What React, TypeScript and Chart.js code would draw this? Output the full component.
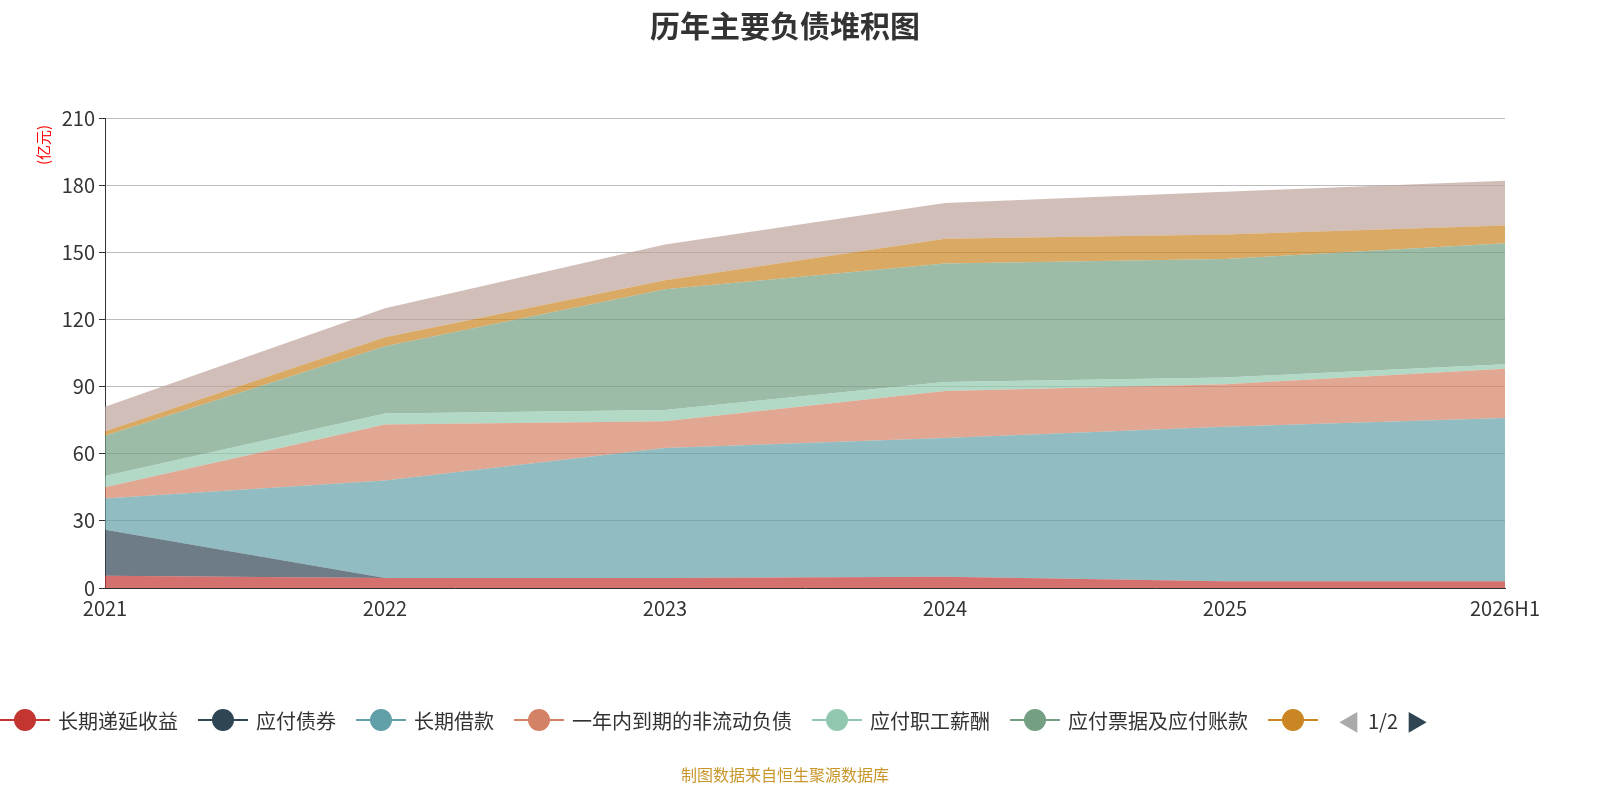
import React, { useEffect, useRef } from "react";
import { Chart, registerables } from "chart.js";
Chart.register(...registerables);

const categories = ["2021", "2022", "2023", "2024", "2025", "2026H1"];
const seriesNames = ["长期递延收益", "应付债券", "长期借款", "一年内到期的非流动负债", "应付职工薪酬", "应付票据及应付账款", "合同负债", "其他应付款"];
const colors = ["#c23531", "#2f4554", "#61a0a8", "#d48265", "#91c7ae", "#749f83", "#ca8622", "#bda29a"];
const s1 = [5.5, 4.5, 4.5, 5, 3, 3];
const s2 = [20.5, 0, 0, 0, 0, 0];
const s3 = [14, 43.5, 58, 62, 69, 73];
const s4 = [5, 25, 12, 21, 19, 22];
const s5 = [5, 5, 5, 4, 3, 2];
const s6 = [18, 30, 54, 53, 53, 54];
const s7 = [2, 4, 4, 11, 11, 8];
const s8 = [11, 13, 16, 16, 19, 20];
const allSeries = [s1, s2, s3, s4, s5, s6, s7, s8];
const yTicks = [0, 30, 60, 90, 120, 150, 180, 210];

function hexA(h: string, a: number) {
  const n = parseInt(h.slice(1), 16);
  return `rgba(${n >> 16},${(n >> 8) & 255},${n & 255},${a})`;
}

export default function App() {
  const ref = useRef<HTMLCanvasElement>(null);
  useEffect(() => {
    document.body.style.margin = "0";
    const chart = new Chart(ref.current!, {
      type: "line",
      data: {
        labels: categories,
        datasets: allSeries.map((d, i) => ({
          label: seriesNames[i],
          data: d,
          borderWidth: 0,
          borderColor: colors[i],
          backgroundColor: hexA(colors[i], 0.7),
          fill: i === 0 ? "origin" : "-1",
          pointRadius: 0,
          tension: 0,
        })),
      },
      options: {
        animation: false,
        responsive: false,
        layout: { padding: { top: 118, right: 95, left: 0, bottom: 0 } },
        plugins: { legend: { display: false }, tooltip: { enabled: false } },
        scales: {
          x: {
            offset: false,
            afterFit: (s: any) => { s.height = 212; },
            grid: { display: false, drawTicks: true, tickLength: 6, color: "#333" },
            border: { color: "#333" },
            ticks: { color: "#333", font: { size: 20, family: "Noto Sans CJK SC" }, maxRotation: 0, padding: 2 },
          },
          y: {
            stacked: true,
            min: 0,
            max: 210,
            afterFit: (s: any) => { s.width = 105; },
            afterBuildTicks: (s: any) => { s.ticks = yTicks.map((v) => ({ value: v })); },
            grid: { color: "#bbb", tickLength: 6, tickColor: "#333" },
            border: { color: "#333" },
            ticks: { color: "#333", font: { size: 20, family: "Noto Sans CJK SC" }, padding: 4 },
          },
        },
      },
    });
    return () => chart.destroy();
  }, []);
  const legendShown = seriesNames.slice(0, 6);
  return (
    <div style={{ position: "relative", width: 1600, height: 800, fontFamily: "Noto Sans CJK SC", background: "#fff" }}>
      <canvas ref={ref} width={1600} height={800} style={{ position: "absolute", left: 0, top: 0 }} />
      <div style={{ position: "absolute", top: 2, width: 1570, textAlign: "center", fontSize: 30, fontWeight: "bold", color: "#333" }}>历年主要负债堆积图</div>
      <div style={{ position: "absolute", left: 32, top: 120, color: "red", fontSize: 15, transform: "rotate(-90deg)", transformOrigin: "left top", whiteSpace: "nowrap", marginTop: 45 }}>(亿元)</div>
      <div style={{ position: "absolute", top: 704, left: 0, display: "flex", alignItems: "center", fontSize: 20, color: "#333", whiteSpace: "nowrap" }}>
        {legendShown.map((n, i) => (
          <div key={n} style={{ display: "flex", alignItems: "center", marginRight: 20 }}>
            <div style={{ position: "relative", width: 50, height: 30 }}>
              <div style={{ position: "absolute", top: 14, left: 0, width: 50, height: 2, background: colors[i] }} />
              <div style={{ position: "absolute", top: 4, left: 14, width: 22, height: 22, borderRadius: 11, background: colors[i] }} />
            </div>
            <span style={{ marginLeft: 8 }}>{n}</span>
          </div>
        ))}
        <div style={{ position: "relative", width: 50, height: 30, marginRight: 20 }}>
          <div style={{ position: "absolute", top: 14, left: 0, width: 50, height: 2, background: colors[6] }} />
          <div style={{ position: "absolute", top: 4, left: 14, width: 22, height: 22, borderRadius: 11, background: colors[6] }} />
        </div>
        <span style={{ color: "#aaa", fontSize: 22 }}>◀</span>
        <span style={{ margin: "0 8px" }}>1/2</span>
        <span style={{ color: "#2f4554", fontSize: 22 }}>▶</span>
      </div>
      <div style={{ position: "absolute", top: 762, width: 1570, textAlign: "center", fontSize: 16, color: "#c8962a" }}>制图数据来自恒生聚源数据库</div>
    </div>
  );
}
